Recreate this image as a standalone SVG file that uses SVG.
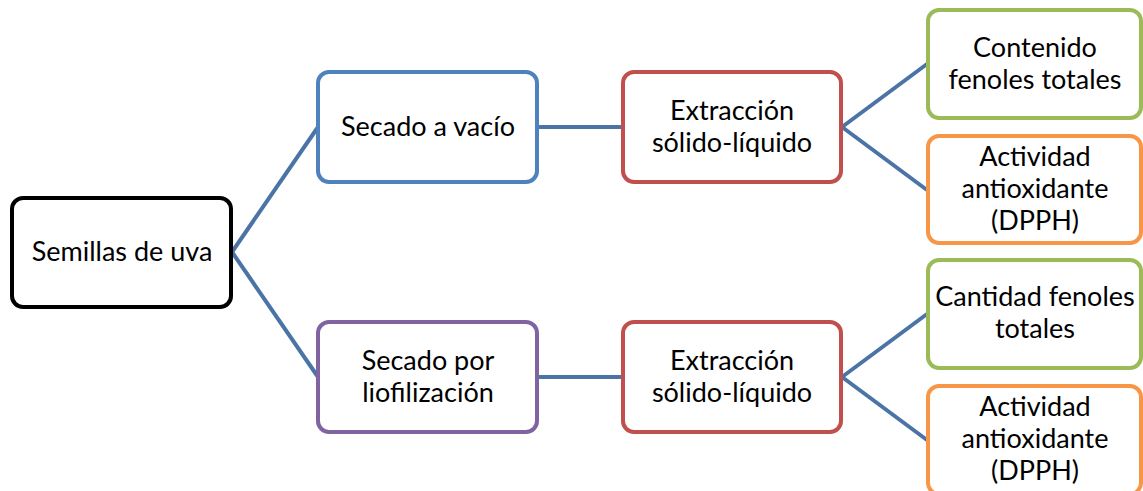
<svg xmlns="http://www.w3.org/2000/svg" width="1143" height="491" viewBox="0 0 1143 491">
<style>
.n rect{fill:#fff;stroke-width:4}
.n text{font-family:Lato,"Open Sans","Liberation Sans",sans-serif;font-size:27px;fill:#000;text-anchor:middle}
.c line{stroke:#4A73A6;stroke-width:4;fill:none}
</style>
<rect width="1143" height="491" fill="#fff"/>
<g id="connectors" class="c">
<line x1="232" y1="252" x2="318" y2="127"/>
<line x1="232" y1="252" x2="318" y2="377"/>
<line x1="538" y1="127" x2="622" y2="127"/>
<line x1="538" y1="377" x2="622" y2="377"/>
<line x1="842" y1="127" x2="927" y2="64"/>
<line x1="842" y1="127" x2="927" y2="190"/>
<line x1="842" y1="377" x2="927" y2="314"/>
<line x1="842" y1="377" x2="927" y2="440"/>
</g>
<g id="root" class="n"><rect x="12" y="198" width="219" height="109" rx="11" stroke="#000"/><text x="122" y="261">Semillas de uva</text></g>
<g id="vacio" class="n"><rect x="318" y="72" width="219" height="110" rx="11" stroke="#4F81BD"/><text x="428" y="136">Secado a vacío</text></g>
<g id="liof" class="n"><rect x="318" y="322" width="219" height="110" rx="11" stroke="#8064A2"/><text x="428" y="370">Secado por</text><text x="428" y="402">liofilización</text></g>
<g id="ext1" class="n"><rect x="623" y="72" width="218" height="110" rx="11" stroke="#C0504D"/><text x="732" y="120">Extracción</text><text x="732" y="152">sólido-líquido</text></g>
<g id="ext2" class="n"><rect x="623" y="322" width="218" height="110" rx="11" stroke="#C0504D"/><text x="732" y="370">Extracción</text><text x="732" y="402">sólido-líquido</text></g>
<g id="cont" class="n"><rect x="928" y="10" width="213" height="108" rx="11" stroke="#9BBB59"/><text x="1035" y="57">Contenido</text><text x="1035" y="89">fenoles totales</text></g>
<g id="act1" class="n"><rect x="928" y="136" width="213" height="107" rx="11" stroke="#F79646"/><text x="1035" y="166">Actividad</text><text x="1035" y="198">antioxidante</text><text x="1035" y="230">(DPPH)</text></g>
<g id="cant" class="n"><rect x="928" y="260" width="213" height="108" rx="11" stroke="#9BBB59"/><text x="1035" y="306">Cantidad fenoles</text><text x="1035" y="338">totales</text></g>
<g id="act2" class="n"><rect x="928" y="386" width="213" height="108" rx="11" stroke="#F79646"/><text x="1035" y="416">Actividad</text><text x="1035" y="448">antioxidante</text><text x="1035" y="480">(DPPH)</text></g>
</svg>
